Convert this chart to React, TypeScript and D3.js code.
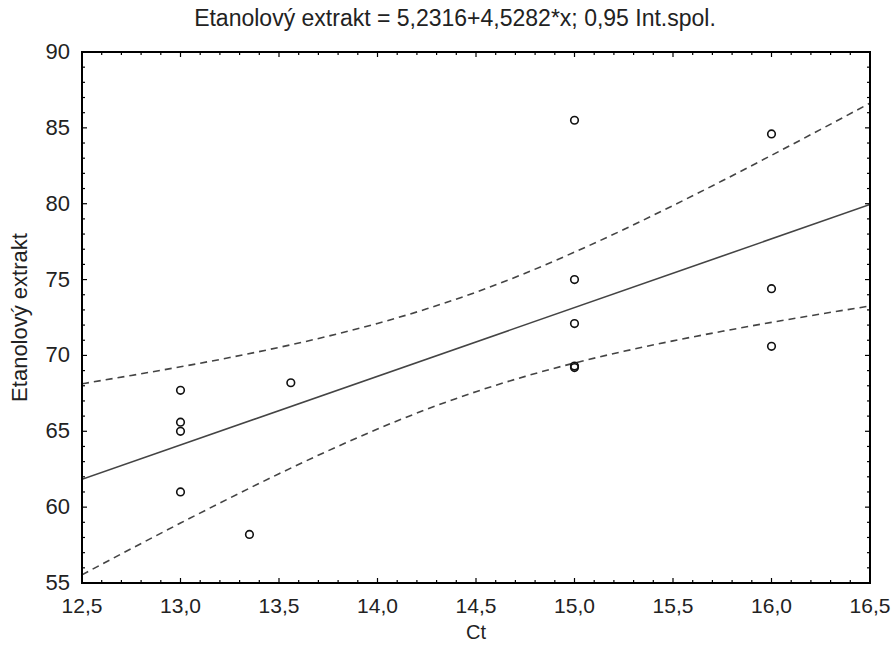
import React, { useEffect, useRef } from "react";
import * as d3 from "d3";

// Fit from the title: y = a + b*x
const INTERCEPT = 5.2316;
const SLOPE = 4.5282;

// Observations (Ct, Etanolový extrakt)
const ctValues = [13.0, 13.0, 13.0, 13.0, 13.35, 13.56, 15.0, 15.0, 15.0, 15.0, 15.0, 16.0, 16.0, 16.0];
const extractValues = [67.7, 65.6, 65.0, 61.0, 58.2, 68.2, 85.5, 75.0, 72.1, 69.3, 69.2, 84.6, 74.4, 70.6];

// 0.95 confidence band, read along the x axis
const bandX = [12.5, 12.75, 13.0, 13.25, 13.5, 13.75, 14.0, 14.25, 14.5, 14.75, 15.0, 15.25, 15.5, 15.75, 16.0, 16.25, 16.5];
const bandUpper = [68.13, 68.68, 69.25, 69.86, 70.53, 71.27, 72.11, 73.07, 74.17, 75.42, 76.81, 78.3, 79.88, 81.51, 83.19, 84.9, 86.63];
const bandLower = [55.54, 57.26, 58.95, 60.6, 62.2, 63.72, 65.15, 66.45, 67.61, 68.62, 69.5, 70.27, 70.96, 71.59, 72.18, 72.73, 73.26];

const xTicks = [12.5, 13.0, 13.5, 14.0, 14.5, 15.0, 15.5, 16.0, 16.5];
const yTicks = [55, 60, 65, 70, 75, 80, 85, 90];

const TITLE = "Etanolový extrakt = 5,2316+4,5282*x; 0,95 Int.spol.";
const X_LABEL = "Ct";
const Y_LABEL = "Etanolový extrakt";

const WIDTH = 891;
const HEIGHT = 658;
const M = { left: 82, right: 21, top: 52, bottom: 75 };
const FONT = "'Liberation Sans', Arial, sans-serif";
const TEXT_COLOR = "#222";

const locale = d3.formatLocale({ decimal: ",", thousands: " ", grouping: [3], currency: ["", ""] });

export default function App() {
  const svgRef = useRef<SVGSVGElement>(null);

  useEffect(() => {
    const svg = d3.select(svgRef.current);
    svg.selectAll("*").remove();

    const x = d3.scaleLinear().domain([12.5, 16.5]).range([M.left, WIDTH - M.right]);
    const y = d3.scaleLinear().domain([55, 90]).range([HEIGHT - M.bottom, M.top]);
    const x0 = M.left, x1 = WIDTH - M.right, y0 = HEIGHT - M.bottom, y1 = M.top;

    svg.append("rect").attr("width", WIDTH).attr("height", HEIGHT).attr("fill", "#fff");

    svg.append("defs").append("clipPath").attr("id", "plot")
      .append("rect").attr("x", x0).attr("y", y1).attr("width", x1 - x0).attr("height", y0 - y1);

    const plot = svg.append("g").attr("clip-path", "url(#plot)");

    // confidence band
    const bandLine = (vals: number[]) =>
      d3.line<number>()
        .x((_, i) => x(bandX[i]))
        .y((d) => y(d))
        .curve(d3.curveMonotoneX)(vals);

    [bandUpper, bandLower].forEach((vals) => {
      plot.append("path")
        .attr("d", bandLine(vals))
        .attr("fill", "none")
        .attr("stroke", "#444")
        .attr("stroke-width", 1.6)
        .attr("stroke-dasharray", "7,5");
    });

    // regression line
    plot.append("line")
      .attr("x1", x(12.5)).attr("y1", y(INTERCEPT + SLOPE * 12.5))
      .attr("x2", x(16.5)).attr("y2", y(INTERCEPT + SLOPE * 16.5))
      .attr("stroke", "#444")
      .attr("stroke-width", 1.6);

    // points
    plot.selectAll("circle.pt")
      .data(ctValues)
      .enter()
      .append("circle")
      .attr("class", "pt")
      .attr("cx", (d) => x(d))
      .attr("cy", (_, i) => y(extractValues[i]))
      .attr("r", 3.8)
      .attr("fill", "none")
      .attr("stroke", "#111")
      .attr("stroke-width", 1.6);

    // ticks, inward on all four sides
    const ticks = svg.append("g").attr("stroke", "#000").attr("stroke-width", 1.2);
    d3.range(125, 166, 1).map((v) => v / 10).forEach((v) => {
      const major = Math.abs(v * 2 - Math.round(v * 2)) < 1e-6;
      const len = major ? 5 : 3;
      ticks.append("line").attr("x1", x(v)).attr("x2", x(v)).attr("y1", y0).attr("y2", y0 - len);
      ticks.append("line").attr("x1", x(v)).attr("x2", x(v)).attr("y1", y1).attr("y2", y1 + len);
    });
    d3.range(55, 91, 1).forEach((v) => {
      const len = v % 5 === 0 ? 5 : 3;
      ticks.append("line").attr("x1", x0).attr("x2", x0 + len).attr("y1", y(v)).attr("y2", y(v));
      ticks.append("line").attr("x1", x1).attr("x2", x1 - len).attr("y1", y(v)).attr("y2", y(v));
    });

    // frame
    svg.append("rect")
      .attr("x", x0).attr("y", y1)
      .attr("width", x1 - x0).attr("height", y0 - y1)
      .attr("fill", "none")
      .attr("stroke", "#000")
      .attr("stroke-width", 2);

    const fmtX = locale.format(".1f");

    svg.append("g")
      .selectAll("text")
      .data(xTicks)
      .enter()
      .append("text")
      .attr("x", (d) => x(d))
      .attr("y", y0 + 30)
      .attr("text-anchor", "middle")
      .attr("font-family", FONT)
      .attr("font-size", 21)
      .attr("fill", TEXT_COLOR)
      .text((d) => fmtX(d));

    svg.append("g")
      .selectAll("text")
      .data(yTicks)
      .enter()
      .append("text")
      .attr("x", x0 - 12)
      .attr("y", (d) => y(d) + 7)
      .attr("text-anchor", "end")
      .attr("font-family", FONT)
      .attr("font-size", 22)
      .attr("fill", TEXT_COLOR)
      .text((d) => String(d));

    svg.append("text")
      .attr("x", 455)
      .attr("y", 26)
      .attr("text-anchor", "middle")
      .attr("font-family", FONT)
      .attr("font-size", 23)
      .attr("fill", TEXT_COLOR)
      .text(TITLE);

    svg.append("text")
      .attr("x", 476)
      .attr("y", 639)
      .attr("text-anchor", "middle")
      .attr("font-family", FONT)
      .attr("font-size", 20)
      .attr("fill", TEXT_COLOR)
      .text(X_LABEL);

    svg.append("text")
      .attr("transform", `translate(27,${(y0 + y1) / 2}) rotate(-90)`)
      .attr("text-anchor", "middle")
      .attr("font-family", FONT)
      .attr("font-size", 22)
      .attr("fill", TEXT_COLOR)
      .text(Y_LABEL);
  }, []);

  return (
    <div style={{ position: "absolute", left: 0, top: 0 }}>
      <svg ref={svgRef} width={WIDTH} height={HEIGHT} style={{ display: "block" }} />
    </div>
  );
}
